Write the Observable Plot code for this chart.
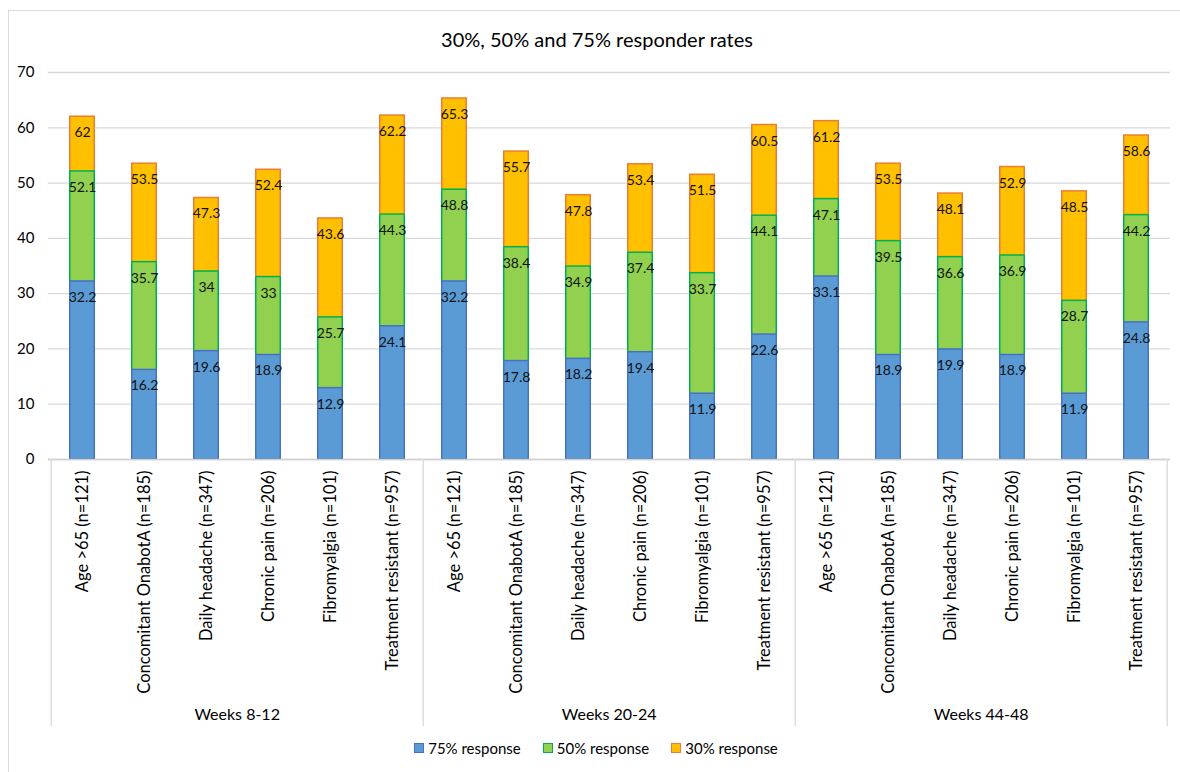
<!DOCTYPE html>
<html>
<head>
<meta charset="utf-8">
<script src="https://cdn.jsdelivr.net/npm/d3@7"></script>
<script src="https://cdn.jsdelivr.net/npm/@observablehq/plot@0.6"></script>
<style>
  html, body { margin: 0; padding: 0; background: #fff; }
  body { width: 1180px; height: 772px; overflow: hidden; position: relative; font-family: Lato, "Open Sans", sans-serif; }
  #border { position: absolute; left: 8px; top: 10px; width: 1190px; height: 780px; border: 1.5px solid #d9d9d9; pointer-events: none; box-sizing: border-box; }
  #title { height: 56px; box-sizing: border-box; padding-top: 27px; text-align: center; font-size: 20px; line-height: 24px; color: #000; padding-left: 14px; }
  #chart svg { display: block; }
  #legend { height: 36px; display: flex; justify-content: center; align-items: center; gap: 22px; font-size: 15px; color: #000; padding-left: 12px; box-sizing: border-box; padding-bottom: 12px; }
  .item { display: flex; align-items: center; gap: 4px; }
  .sw { width: 10px; height: 10px; box-sizing: border-box; border: 1.5px solid; }
</style>
</head>
<body>
<div id="title">30%, 50% and 75% responder rates</div>
<div id="chart"></div>
<div id="legend"></div>
<div id="border"></div>
<script>
const groups = ["Weeks 8-12", "Weeks 20-24", "Weeks 44-48"];
const categories = ["Age >65 (n=121)", "Concomitant OnabotA (n=185)", "Daily headache (n=347)", "Chronic pain (n=206)", "Fibromyalgia (n=101)", "Treatment resistant (n=957)"];
const series = ["75% response", "50% response", "30% response"];
const r75 = [32.2, 16.2, 19.6, 18.9, 12.9, 24.1, 32.2, 17.8, 18.2, 19.4, 11.9, 22.6, 33.1, 18.9, 19.9, 18.9, 11.9, 24.8];
const r50 = [52.1, 35.7, 34, 33, 25.7, 44.3, 48.8, 38.4, 34.9, 37.4, 33.7, 44.1, 47.1, 39.5, 36.6, 36.9, 28.7, 44.2];
const r30 = [62, 53.5, 47.3, 52.4, 43.6, 62.2, 65.3, 55.7, 47.8, 53.4, 51.5, 60.5, 61.2, 53.5, 48.1, 52.9, 48.5, 58.6];
const yTicks = [0, 10, 20, 30, 40, 50, 60, 70];

const fills = ["#5B9BD5", "#92D050", "#FFC000"];
const strokes = ["#4472C4", "#00B050", "#ED7D31"];

const keys = [];
groups.forEach(g => categories.forEach(c => keys.push(g + "|" + c)));
const rows = [];
[r30, r50, r75].forEach((arr, si) => {
  const s = 2 - si;
  arr.forEach((v, i) => rows.push({key: keys[i], group: groups[Math.floor(i / 6)], series: series[s], s, value: v}));
});

const W = 1180, H = 680;
const pIn = 0.575;

function groupDecor(index, scales, values, dims) {
  const g = d3.create("svg:g");
  const x = scales.x;
  const step = x(keys[1]) - x(keys[0]);
  const bw = step * (1 - pIn);
  const off = (step - bw) / 2;
  const yb = dims.height - dims.marginBottom;
  const edges = [];
  for (let k = 0; k < groups.length; k++) edges.push(x(keys[k * 6]) - off);
  edges.push(x(keys[keys.length - 1]) + bw + off);
  edges.forEach(e => {
    g.append("line").attr("x1", e).attr("x2", e).attr("y1", yb).attr("y2", yb + 267)
      .attr("stroke", "#d9d9d9").attr("stroke-width", 1.3);
  });
  groups.forEach((gr, k) => {
    g.append("text").attr("x", (edges[k] + edges[k + 1]) / 2).attr("y", yb + 257)
      .attr("text-anchor", "middle").attr("dominant-baseline", "middle")
      .attr("font-size", 16).attr("fill", "#000").text(gr);
  });
  return g.node();
}

const plot = Plot.plot({
  width: W,
  height: H,
  marginLeft: 48,
  marginRight: 10,
  marginTop: 16,
  marginBottom: 277,
  style: {fontFamily: "Lato, 'Open Sans', sans-serif", background: "#fff", color: "#000"},
  x: {domain: keys, paddingInner: pIn, paddingOuter: pIn / 2, label: null},
  y: {domain: [0, 70], label: null},
  marks: [
    Plot.gridY(yTicks, {stroke: "#d9d9d9", strokeOpacity: 1, strokeWidth: 1.3}),
    Plot.axisY(yTicks, {tickSize: 0, tickPadding: 14, fontSize: 15, label: null}),
    Plot.barY(rows, {x: "key", y1: 0, y2: "value", fill: d => fills[d.s], stroke: d => strokes[d.s], strokeWidth: 1.5, insetLeft: 0.75, insetRight: 0.75}),
    Plot.ruleY([0], {stroke: "#d0d0d0", strokeWidth: 1.3}),
    Plot.text(rows, {x: "key", y: "value", text: d => String(d.value), dy: 16, fontSize: 14, fill: "#111", lineAnchor: "middle"}),
    Plot.axisX({tickSize: 0, tickPadding: 11, tickRotate: -90, fontSize: 16.5, tickFormat: d => d.split("|")[1], label: null}),
    groupDecor
  ]
});
document.getElementById("chart").appendChild(plot);

const legend = document.getElementById("legend");
series.forEach((s, i) => {
  const it = document.createElement("div");
  it.className = "item";
  const sw = document.createElement("div");
  sw.className = "sw";
  sw.style.background = fills[i];
  sw.style.borderColor = strokes[i];
  const t = document.createElement("span");
  t.textContent = s;
  it.appendChild(sw); it.appendChild(t);
  legend.appendChild(it);
});
</script>
</body>
</html>
